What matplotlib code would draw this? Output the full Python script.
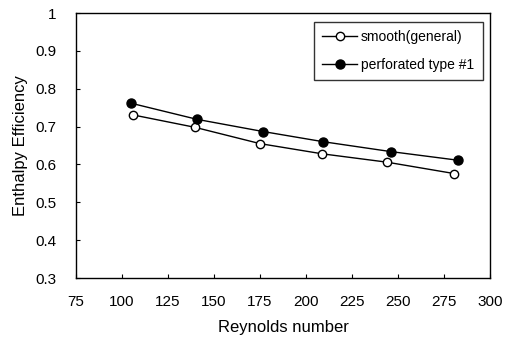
import matplotlib
matplotlib.use("Agg")
import matplotlib.pyplot as plt

plt.rcParams['font.family'] = ['Liberation Sans', 'DejaVu Sans']

smooth_x = [105.8, 139.7, 175.0, 208.9, 244.0, 280.4]
smooth_y = [0.731, 0.698, 0.655, 0.628, 0.606, 0.576]
perf_x = [104.7, 140.9, 176.6, 209.4, 246.0, 282.8]
perf_y = [0.762, 0.719, 0.687, 0.660, 0.634, 0.611]

xticks = [75, 100, 125, 150, 175, 200, 225, 250, 275, 300]
yticks = [0.3, 0.4, 0.5, 0.6, 0.7, 0.8, 0.9, 1.0]
ytick_labels = ["0.3", "0.4", "0.5", "0.6", "0.7", "0.8", "0.9", "1"]

fig = plt.figure(figsize=(5.08, 3.47), dpi=100)
ax = fig.add_axes([0.1496, 0.1988, 0.815, 0.7637])

ax.plot(smooth_x, smooth_y, color='black', lw=1.0, marker='o', ms=6,
        mfc='white', mec='black', mew=1.0, label='smooth(general)')
ax.plot(perf_x, perf_y, color='black', lw=1.0, marker='o', ms=6.5,
        mfc='black', mec='black', label='perforated type #1')

ax.set_xlim(75, 300)
ax.set_ylim(0.3, 1.0)
ax.set_xticks(xticks)
ax.set_yticks(yticks)
ax.set_yticklabels(ytick_labels)
ax.tick_params(direction='in', length=3, width=0.8, labelsize=11, pad=12)
ax.tick_params(axis='y', pad=14)
for s in ax.spines.values():
    s.set_linewidth(1.0)
    s.set_color('black')

ax.set_xlabel('Reynolds number', fontsize=12, labelpad=8)
ax.set_ylabel('Enthalpy Efficiency', fontsize=12, labelpad=5)

leg = ax.legend(loc='upper right', bbox_to_anchor=(0.982, 0.967), fontsize=10,
                frameon=True, fancybox=False, edgecolor='black',
                borderpad=0.6, labelspacing=1.0, handlelength=2.5,
                handletextpad=0.3, borderaxespad=0)
leg.get_frame().set_linewidth(1.0)

fig.savefig('out.png', dpi=100)
